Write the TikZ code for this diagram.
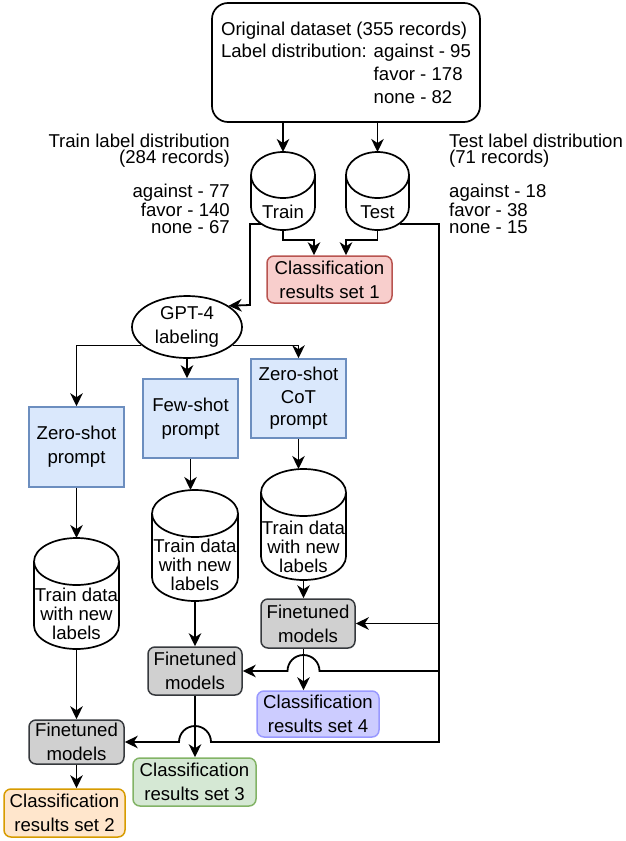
\documentclass[tikz,border=0pt]{standalone}
\usepackage{fontspec}
\setmainfont{Liberation Sans}
\usetikzlibrary{arrows.meta,calc,shapes.geometric}
\definecolor{cAf}{HTML}{F8CECC}\definecolor{cAd}{HTML}{B85450}
\definecolor{pf}{HTML}{DAE8FC}\definecolor{pd}{HTML}{6C8EBF}
\definecolor{gf}{HTML}{D0D0D0}\definecolor{gd}{HTML}{36393D}
\definecolor{cDf}{HTML}{CCCCFF}\definecolor{cDd}{HTML}{9999FF}
\definecolor{cCf}{HTML}{D5E8D4}\definecolor{cCd}{HTML}{82B366}
\definecolor{cBf}{HTML}{FFE6CC}\definecolor{cBd}{HTML}{D79B00}
\newcommand\fsz[1]{\fontsize{18.6}{#1}\selectfont}
\newcommand\cyl[8]{%
  \draw[cylst] (#2-#3,#4+#6) -- (#2-#3,#5-#6) arc[start angle=180,end angle=360,x radius=#3pt,y radius=#6pt] -- (#2+#3,#4+#6) arc[start angle=0,end angle=180,x radius=#3pt,y radius=#6pt] -- cycle;
  \draw[cylst] (#2-#3,#4+#6) arc[start angle=180,end angle=360,x radius=#3pt,y radius=#6pt];
  \coordinate (#1-top) at (#2,#4);
  \coordinate (#1-bot) at (#2,#5);
  \node[cyltxt] (#1) at (#2,#8) {#7};
}
\begin{document}
\begin{tikzpicture}[x=1pt,y=-1pt,
  ln/.style={line width=1.8pt},
  arr/.style={ln,-{Stealth[length=13pt,width=12.5pt,inset=4pt]}},
  bx/.style={draw, line width=1.5pt, rounded corners=7pt, align=center, inner sep=0pt, font=\fsz{24}},
  prm/.style={bx, rounded corners=0pt, fill=pf, draw=pd},
  ftn/.style={bx, fill=gf, draw=gd, minimum width=94pt},
  cylst/.style={line width=1.7pt, fill=white},
  cyltxt/.style={inner sep=0pt, align=center, font=\fsz{19}},
  lbl/.style={inner sep=0pt, font=\fsz{16}}]
\useasboundingbox (0,0) rectangle (625,841);

% top box
\node[bx, line width=1.7pt, rounded corners=16pt, minimum width=268pt, minimum height=119pt, align=left, font=\fsz{22.7}] (orig) at (346,62.5)
 {Original dataset (355 records)\\Label distribution: against - 95\\\phantom{Label distribution: }favor - 178\\\phantom{Label distribution: }none - 82};

% side labels
\node[lbl, align=right, anchor=base east] (trlbl) at (230,163) {Train label distribution\\(284 records)};
\node[lbl, align=right, anchor=base east, font=\fsz{17}] (trdist) at (230,233) {against - 77\\favor - 140\\none - 67};
\node[lbl, align=left, anchor=base west] (telbl) at (449,163) {Test label distribution\\(71 records)};
\node[lbl, align=left, anchor=base west, font=\fsz{17}] (tedist) at (449,233) {against - 18\\favor - 38\\none - 15};

% cylinders
\cyl{train}{283}{32}{152}{230}{23}{Train}{212}
\cyl{test}{377.5}{31.5}{152}{230}{23}{Test}{212}
\cyl{zcyl}{76.5}{42.5}{538}{649}{23.5}{Train data\\with new\\labels}{614}
\cyl{fcyl}{195}{43}{490}{601}{23.5}{Train data\\with new\\labels}{565}
\cyl{ccyl}{303.5}{42.5}{469}{580}{23.5}{Train data\\with new\\labels}{547}

% boxes
\node[bx, fill=cAf, draw=cAd, minimum width=125pt, minimum height=47pt] (cr1) at (329.5,279.5) {Classification\\results set 1};
\node[draw, ellipse, line width=1.7pt, minimum width=110pt, minimum height=62pt, inner sep=0pt, align=center, font=\fsz{24}] (gpt) at (187,327) {GPT-4\\labeling};
\node[prm, minimum width=95pt, minimum height=80pt] (zs) at (76.5,447) {Zero-shot\\prompt};
\node[prm, minimum width=95pt, minimum height=79pt] (fs) at (190.5,418.5) {Few-shot\\prompt};
\node[prm, minimum width=95pt, minimum height=79pt, font=\fsz{22.5}] (cot) at (298.5,398.5) {Zero-shot\\CoT\\prompt};
\node[ftn, minimum height=49pt] (ftc) at (308,623.5) {Finetuned\\models};
\node[ftn, minimum height=48pt] (ftf) at (195,671) {Finetuned\\models};
\node[ftn, minimum width=95pt, minimum height=44pt] (ftz) at (76.5,742) {Finetuned\\models};
\node[bx, fill=cDf, draw=cDd, minimum width=122pt, minimum height=46pt] (cr4) at (318,714) {Classification\\results set 4};
\node[bx, fill=cCf, draw=cCd, minimum width=123pt, minimum height=48pt] (cr3) at (194.5,782) {Classification\\results set 3};
\node[bx, fill=cBf, draw=cBd, minimum width=121pt, minimum height=48pt] (cr2) at (64.5,813) {Classification\\results set 2};

% connectors
\draw[arr] (orig.south -| train-top) -- (train-top);
\draw[arr] (orig.south -| test-top) -- (test-top);
\draw[arr] (train-bot) -- ++(0,10) -| ($(cr1.north)+(-15.5,0)$);
\draw[arr] (test-bot) -- ++(0,10) -| ($(cr1.north)+(16.5,0)$);

\coordinate (trout) at (261,224);
\coordinate (trbend) at (250,224);
\coordinate (trbend2) at (250,305);
\draw[arr] (trout) -- (trbend) -- (trbend2) -- (gpt.27);

\draw[arr] (gpt.202) -| (zs.north);
\draw[arr] (gpt.338) -| (cot.north);
\draw[arr] (gpt.south) -- (gpt.south |- fs.north);

\draw[arr] (zs.south) -- (zcyl-top);
\draw[arr] (fs.south) -- (fs.south |- fcyl-top);
\draw[arr] (cot.south) -- (cot.south |- ccyl-top);

\draw[arr] (zcyl-bot) -- (zcyl-bot |- ftz.north);
\draw[arr] (fcyl-bot) -- (fcyl-bot |- ftf.north);
\draw[arr] (ccyl-bot) -- (ccyl-bot |- ftc.north);

\draw[arr] (ccyl-bot |- ftc.south) -- (ccyl-bot |- cr4.north);
\draw[arr] (ftf.south) -- (ftf.south |- cr3.north);
\draw[arr] (ftz.south) -- (ftz.south |- cr2.north);

\coordinate (teout) at (400,224);
\coordinate (rail) at (439,224);
\draw[arr] (teout) -- (rail) -- (rail |- ftz.east) -- ($(ftf.south |- ftz.east)+(16,0)$) arc[start angle=0,end angle=180,radius=16pt] -- (ftz.east);
\draw[arr] (rail |- ftc.east) -- (ftc.east);
\draw[arr] (rail |- ftf.east) -- ($(ccyl-bot |- ftf.east)+(16,0)$) arc[start angle=0,end angle=180,radius=16pt] -- (ftf.east);
\end{tikzpicture}
\end{document}
